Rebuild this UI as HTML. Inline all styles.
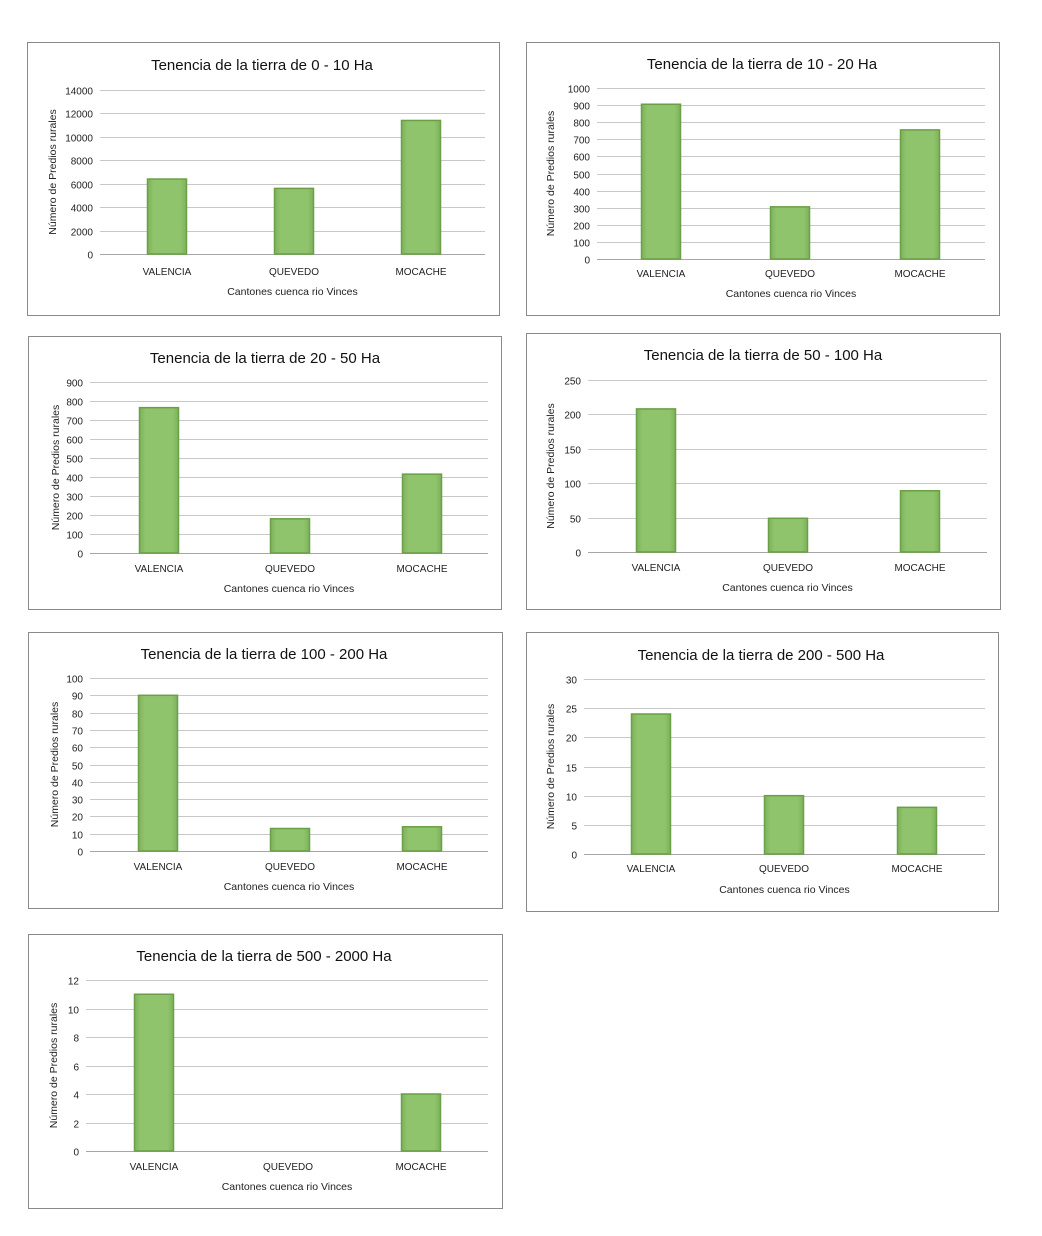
<!DOCTYPE html>
<html><head><meta charset="utf-8"><style>
html,body{margin:0;padding:0;background:#fff;}
svg{display:block;font-family:"Liberation Sans",Arial,sans-serif;}
</style></head><body>
<svg id="root" width="1042" height="1236" viewBox="0 0 1042 1236" xmlns="http://www.w3.org/2000/svg">
<defs>
<linearGradient id="barg" x1="0" x2="1" y1="0" y2="0">
<stop offset="0" stop-color="#7db35a"/><stop offset="0.15" stop-color="#8fc36c"/><stop offset="0.85" stop-color="#8fc36c"/><stop offset="1" stop-color="#7db35a"/>
</linearGradient>
</defs>
</svg>
<script>
const categories = ["VALENCIA","QUEVEDO","MOCACHE"];
const titles = ["Tenencia de la tierra de 0 - 10 Ha","Tenencia de la tierra de 10 - 20 Ha","Tenencia de la tierra de 20 - 50 Ha","Tenencia de la tierra de 50 - 100 Ha","Tenencia de la tierra de 100 - 200 Ha","Tenencia de la tierra de 200 - 500 Ha","Tenencia de la tierra de 500 - 2000 Ha"];
const values0 = [6400, 5600, 11400];
const values1 = [905, 305, 755];
const values2 = [765, 180, 415];
const values3 = [208, 49, 89];
const values4 = [90, 13, 14];
const values5 = [24, 10, 8];
const values6 = [11, 0, 4];
const seriesValues = [values0, values1, values2, values3, values4, values5, values6];
const axisMax = [14000, 1000, 900, 250, 100, 30, 12];
const axisStep = [2000, 100, 100, 50, 10, 5, 2];
const xTitle = "Cantones cuenca rio Vinces";
const yTitle = "Número de Predios rurales";

// layout (not data)
const layouts = [
 {bx:27,by:42,bw:472,bh:273,y0:254,y1:90,gx0:100,gx1:485,cx:[167,294,421],ty:64,tcx:262,ly:271,xty:291,ytx:52},
 {bx:526,by:42,bw:473,bh:273,y0:259,y1:88,gx0:597,gx1:985,cx:[661,790,920],ty:63,tcx:762,ly:273,xty:293,ytx:550},
 {bx:28,by:336,bw:473,bh:273,y0:553,y1:382,gx0:90,gx1:488,cx:[159,290,422],ty:357,tcx:265,ly:568,xty:588,ytx:55},
 {bx:526,by:333,bw:474,bh:276,y0:552,y1:380,gx0:588,gx1:987,cx:[656,788,920],ty:354,tcx:763,ly:567,xty:587,ytx:550},
 {bx:28,by:632,bw:474,bh:276,y0:851,y1:678,gx0:90,gx1:488,cx:[158,290,422],ty:653,tcx:264,ly:866,xty:886,ytx:54},
 {bx:526,by:632,bw:472,bh:279,y0:854,y1:679,gx0:584,gx1:985,cx:[651,784,917],ty:654,tcx:761,ly:868,xty:889,ytx:550},
 {bx:28,by:934,bw:474,bh:274,y0:1151,y1:980,gx0:86,gx1:488,cx:[154,288,421],ty:955,tcx:264,ly:1166,xty:1186,ytx:53}
];
const NS="http://www.w3.org/2000/svg";
const root=document.getElementById('root');
function mk(tag,attrs,parent,text){const e=document.createElementNS(NS,tag);for(const k in attrs)e.setAttribute(k,attrs[k]);if(text!==undefined)e.textContent=text;parent.appendChild(e);return e;}
layouts.forEach((L,i)=>{
 const g=mk('g',{},root);
 
 
 const box=mk('rect',{x:L.bx+0.5,y:L.by+0.5,width:L.bw,height:L.bh,fill:'#fff',stroke:'#8a8a8a','stroke-width':1},g);
 
 
 const yScale=v=>L.y0-(v/axisMax[i])*(L.y0-L.y1);
 for(let v=0;v<=axisMax[i]+1e-9;v+=axisStep[i]){
  const y=Math.round(yScale(v))+0.5;
  const gl=mk('line',{x1:L.gx0,x2:L.gx1,y1:y,y2:y,stroke:v===0?'#a6a6a6':'#c8c8c8','stroke-width':1},g);
  
  
  const t=mk('text',{x:L.gx0-7,y:y+4,'font-size':10,'text-anchor':'end',fill:'#222'},g,String(v));
  
  
 }
 const bw=39;
 seriesValues[i].forEach((v,j)=>{
  const y=yScale(v);
  if(v>0){
   const b=mk('rect',{x:L.cx[j]-bw/2,y:y,width:bw,height:L.y0-y,fill:'url(#barg)',stroke:'#6a9f47','stroke-width':1.5},g);
   
   
  }
  const t=mk('text',{x:L.cx[j],y:L.ly+4,'font-size':10,'text-anchor':'middle',fill:'#222'},g,categories[j]);
  
  
 });
 const tt=mk('text',{x:L.tcx,y:L.ty+6,'font-size':15,'text-anchor':'middle',fill:'#111'},g,titles[i]);
 
 
 const xt=mk('text',{x:(L.gx0+L.gx1)/2,y:L.xty+4,'font-size':10.5,'text-anchor':'middle',fill:'#222'},g,xTitle);
 
 
 const yc=(L.y0+L.y1)/2;
 const yt=mk('text',{x:L.ytx+4,y:yc,'font-size':10.5,'text-anchor':'middle',fill:'#222',transform:'rotate(-90 '+(L.ytx+4)+' '+yc+')'},g,yTitle);
 
 
});
</script>
</body></html>
